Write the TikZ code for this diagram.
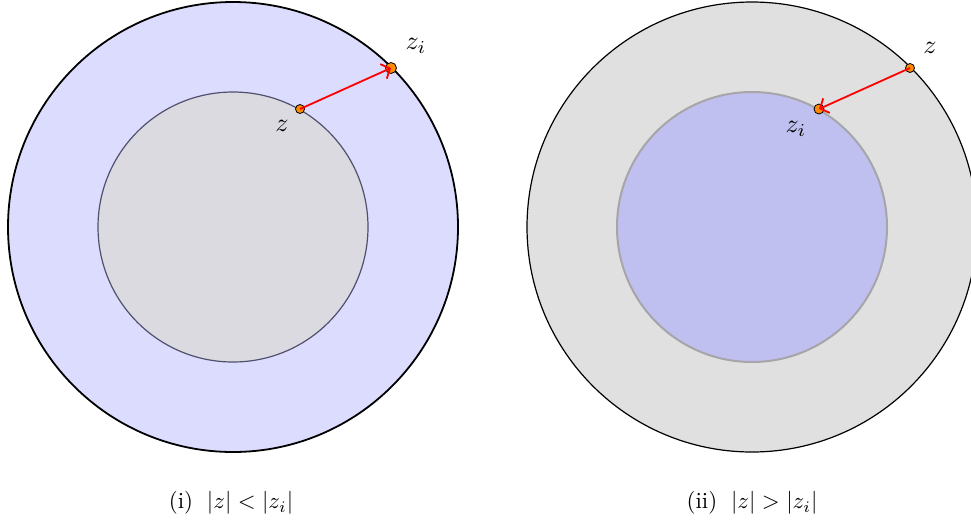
\documentclass[tikz,border=0pt]{standalone}
\usepackage{graphicx}
\usetikzlibrary{arrows.meta}
\definecolor{lblue}{RGB}{220,220,255}
\definecolor{lgray}{RGB}{218,218,224}
\definecolor{rgray}{RGB}{224,224,224}
\definecolor{rblue}{RGB}{192,192,240}
\definecolor{edgeb}{RGB}{80,80,110}
\definecolor{edgeg}{RGB}{165,165,170}
\definecolor{dotor}{RGB}{255,140,0}
\newcommand{\myLabTxt}[1]{\scalebox{2.6}{$#1$}}
\newcommand{\myCapTxt}[1]{\scalebox{2.3}{#1}}
\tikzset{
  dot/.style={circle,draw=black,fill=dotor,line width=0.8pt,inner sep=0pt,minimum size=9pt},
  lab/.style={inner sep=0pt},
  captxt/.style={inner sep=0pt},
  arr/.style={red,line width=1.8pt,-{Straight Barb[length=7pt,width=16pt,line width=1.8pt]}}
}
\begin{document}
\begin{tikzpicture}[x=1pt,y=-1pt]
\useasboundingbox (0,0) rectangle (971,523);
\begin{scope}
\clip (0,0) rectangle (971,523);
% left
\draw[black,line width=1.8pt,fill=lblue] (233,227) circle (225);
\draw[edgeb,line width=1.2pt,fill=lgray] (233,227) circle (135);
% right
\draw[black,line width=1.2pt,fill=rgray] (752,227) circle (225);
\draw[edgeg,line width=2pt,fill=rblue] (752,227) circle (135);
\end{scope}
% left points
\node[dot] (zl) at (300,109) {};
\node[dot,minimum size=11pt] (zil) at (391,68) {};
\draw[arr] (zl.center) -- (zil.center);
\node[lab] (tzl) at (282,126) {\myLabTxt{z}};
\node[lab] (tzil) at (416,46) {\myLabTxt{z_i}};
% right points
\node[dot] (zr) at (910,68) {};
\node[dot,minimum size=10pt] (zir) at (819,109) {};
\draw[arr] (zr.center) -- (zir.center);
\node[lab] (tzr) at (930,48) {\myLabTxt{z}};
\node[lab] (tzir) at (796,129) {\myLabTxt{z_i}};
% captions
\node[captxt] (c1) at (231,503) {\myCapTxt{(i)\hspace{0.6em}$|z|<|z_i|$}};
\node[captxt] (c2) at (752,503) {\myCapTxt{(ii)\hspace{0.6em}$|z|>|z_i|$}};
\end{tikzpicture}
\end{document}
